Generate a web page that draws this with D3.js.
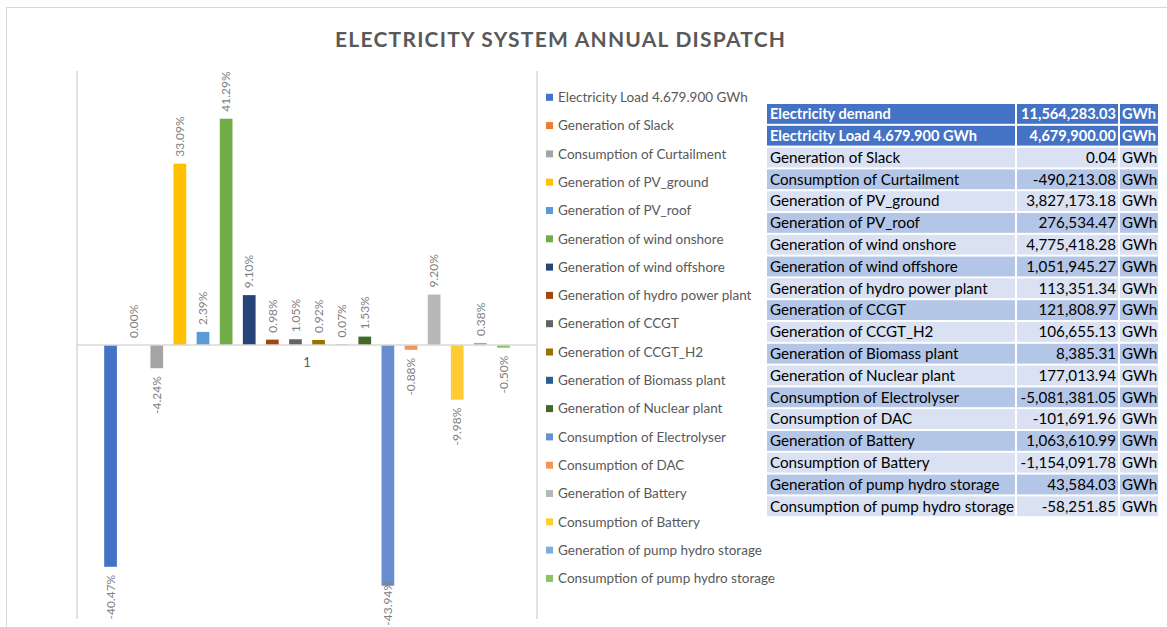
<!DOCTYPE html>
<html>
<head>
<meta charset="utf-8">
<script src="https://cdn.jsdelivr.net/npm/d3@7"></script>
<style>
  body { margin: 0; background: #fff; }
  svg { display: block; font-family: Lato, "Open Sans", sans-serif; }
</style>
</head>
<body>
<div id="chart"></div>
<script>
// series names (legend order = bar order)
const seriesNames = [
  "Electricity Load 4.679.900 GWh",
  "Generation of Slack",
  "Consumption of Curtailment",
  "Generation of PV_ground",
  "Generation of PV_roof",
  "Generation of wind onshore",
  "Generation of wind offshore",
  "Generation of hydro power plant",
  "Generation of CCGT",
  "Generation of CCGT_H2",
  "Generation of Biomass plant",
  "Generation of Nuclear plant",
  "Consumption of Electrolyser",
  "Consumption of DAC",
  "Generation of Battery",
  "Consumption of Battery",
  "Generation of pump hydro storage",
  "Consumption of pump hydro storage"
];

// share of electricity demand, as plotted (%)
const sharePct = [-40.47, 0.00, -4.24, 33.09, 2.39, 41.29, 9.10, 0.98, 1.05, 0.92, 0.07, 1.53, -43.94, -0.88, 9.20, -9.98, 0.38, -0.50];

const seriesColors = [
  "#4472C4", "#ED7D31", "#A5A5A5", "#FFC000", "#5B9BD5", "#70AD47",
  "#264478", "#9E480E", "#636363", "#997300", "#255E91", "#43682B",
  "#698ED0", "#F1975A", "#B7B7B7", "#FFCD33", "#7CAFDD", "#8CC168"
];

const categories = ["1"];

// table to the right
const tableLabels = ["Electricity demand"].concat(seriesNames);
const tableValues = [
  "11,564,283.03", "4,679,900.00", "0.04", "-490,213.08", "3,827,173.18",
  "276,534.47", "4,775,418.28", "1,051,945.27", "113,351.34", "121,808.97",
  "106,655.13", "8,385.31", "177,013.94", "-5,081,381.05", "-101,691.96",
  "1,063,610.99", "-1,154,091.78", "43,584.03", "-58,251.85"
];
const tableUnit = "GWh";

const width = 1167, height = 627;

const svg = d3.select("#chart").append("svg")
  .attr("width", width)
  .attr("height", height);

// chart frame
svg.append("rect")
  .attr("x", 6.5).attr("y", 7.5)
  .attr("width", 1200).attr("height", 700)
  .attr("fill", "none")
  .attr("stroke", "#D9D9D9");

// title
svg.append("text")
  .attr("x", 335).attr("y", 47)
  .attr("textLength", 450)
  .attr("lengthAdjust", "spacing")
  .style("font-size", "21px")
  .style("font-weight", "bold")
  .style("fill", "#595959")
  .text("ELECTRICITY SYSTEM ANNUAL DISPATCH");

// plot area
const plot = { left: 77, right: 537, top: 71, bottom: 619 };

const y = d3.scaleLinear().domain([-0.5, 0.5]).range([plot.bottom, plot.top]);

const xCat = d3.scaleBand().domain(categories).range([plot.left, plot.right]);

const x = d3.scaleBand()
  .domain(seriesNames)
  .range([99, 515])
  .paddingInner(0.45)
  .paddingOuter(0.225);

const data = seriesNames.map((name, i) => ({ name, v: sharePct[i] / 100, color: seriesColors[i] }));

// left vertical axis line and right edge line
svg.append("line")
  .attr("x1", plot.left).attr("x2", plot.left)
  .attr("y1", plot.top).attr("y2", plot.bottom)
  .attr("stroke", "#D9D9D9").attr("stroke-width", 1.5);
svg.append("line")
  .attr("x1", plot.right).attr("x2", plot.right)
  .attr("y1", plot.top).attr("y2", plot.bottom)
  .attr("stroke", "#D9D9D9").attr("stroke-width", 1.5);

// bars
svg.append("g").selectAll("rect")
  .data(data)
  .enter()
  .append("rect")
  .attr("x", d => x(d.name))
  .attr("width", x.bandwidth())
  .attr("y", d => y(Math.max(0, d.v)))
  .attr("height", d => Math.abs(y(d.v) - y(0)))
  .attr("fill", d => d.color);

// zero axis line
svg.append("line")
  .attr("x1", plot.left).attr("x2", plot.right)
  .attr("y1", y(0)).attr("y2", y(0))
  .attr("stroke", "#D9D9D9").attr("stroke-width", 1.5);

// category label
svg.append("text")
  .attr("x", xCat(categories[0]) + xCat.bandwidth() / 2)
  .attr("y", y(0) + 22)
  .attr("text-anchor", "middle")
  .style("font-size", "13px")
  .style("fill", "#595959")
  .text(categories[0]);

// data labels (rotated); keep the long negative one inside the picture
svg.append("g").selectAll("text")
  .data(data)
  .enter()
  .append("text")
  .attr("transform", d => {
    const cx = x(d.name) + x.bandwidth() / 2;
    const cy = d.v >= 0 ? y(d.v) - 7 : Math.min(y(d.v) + 8, height - 46);
    return `translate(${cx},${cy}) rotate(-90)`;
  })
  .attr("text-anchor", d => d.v >= 0 ? "start" : "end")
  .attr("dy", "0.35em")
  .style("font-size", "12px")
  .style("fill", "#7F7F7F")
  .text(d => (d.v * 100).toFixed(2) + "%");

// legend
const legend = svg.append("g").selectAll("g")
  .data(data)
  .enter()
  .append("g")
  .attr("transform", (d, i) => `translate(546, ${97.3 + i * 28.3})`);

legend.append("rect")
  .attr("x", 0).attr("y", -3.5)
  .attr("width", 7).attr("height", 7)
  .attr("fill", d => d.color);

legend.append("text")
  .attr("x", 12)
  .attr("dy", "0.35em")
  .style("font-size", "13.5px")
  .style("fill", "#595959")
  .text(d => d.name);

// table
const tbl = { top: 104, rowH: 21.8, cols: [767, 1017, 1120, 1160] };
const rows = svg.append("g").selectAll("g")
  .data(tableLabels.map((label, i) => ({ label, value: tableValues[i], i })))
  .enter()
  .append("g")
  .attr("transform", d => `translate(0, ${tbl.top + d.i * tbl.rowH})`);

const rowFill = d => d.i < 2 ? "#4472C4" : (d.i % 2 === 0 ? "#D9E1F2" : "#B4C6E7");

[0, 1, 2].forEach(c => {
  rows.append("rect")
    .attr("x", tbl.cols[c])
    .attr("width", tbl.cols[c + 1] - tbl.cols[c] - 2)
    .attr("height", tbl.rowH - 2)
    .attr("fill", rowFill);
});

const cellText = sel => sel
  .attr("y", tbl.rowH / 2 - 1)
  .attr("dy", "0.35em")
  .style("font-size", d => d.i < 2 ? "14.6px" : "15.2px")
  .style("font-weight", d => d.i < 2 ? "bold" : "normal")
  .style("fill", d => d.i < 2 ? "#fff" : "#000");

rows.append("text").attr("x", tbl.cols[0] + 3).call(cellText).text(d => d.label);
rows.append("text").attr("x", tbl.cols[2] - 4).attr("text-anchor", "end").call(cellText).text(d => d.value);
rows.append("text").attr("x", tbl.cols[2] + 2).call(cellText).text(tableUnit);
</script>
</body>
</html>
